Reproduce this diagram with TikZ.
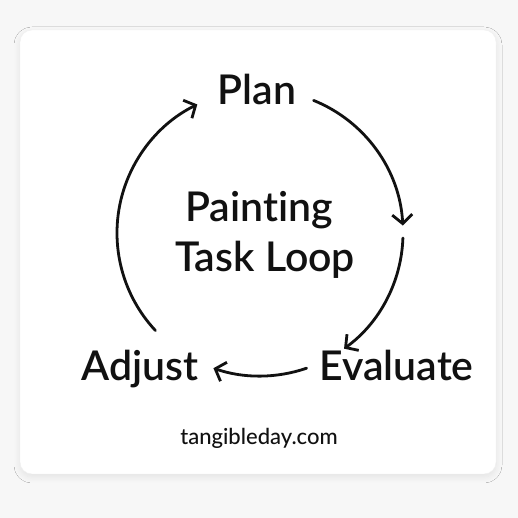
\documentclass[tikz,border=0pt]{standalone}
\usepackage{fontspec}
\setmainfont{Lato Semibold}[Ligatures=NoCommon]
\newfontfamily\smallfont{Lato Medium}[Ligatures=NoCommon]
\usetikzlibrary{arrows.meta,shadows.blur}
\definecolor{bgc}{HTML}{F7F7F7}
\definecolor{ink}{HTML}{111111}
\tikzset{
  big/.style={font=\fontsize{41}{51}\selectfont, text=ink, inner sep=0pt, anchor=base},
  small/.style={font=\smallfont\fontsize{22}{28}\selectfont, text=ink, inner sep=0pt, anchor=base},
  loop/.style={line width=2.8pt, draw=ink, line cap=round, -{Straight Barb[length=9pt,width=20pt,line width=2.8pt]}},
}
\begin{document}
\begin{tikzpicture}[x=1pt,y=1pt]
\fill[bgc] (0,0) rectangle (518,518);
\useasboundingbox (0,0) rectangle (518,518);
\node[draw=black!6, fill=white, rounded corners=12pt, minimum width=476pt, minimum height=444pt, inner sep=0pt,
      blur shadow={shadow xshift=0pt, shadow yshift=-3pt, shadow blur steps=10, shadow blur radius=6pt, shadow opacity=8}] (card) at (258,266) {};
\coordinate (c) at (260,285);
\node[big] (plan) at (257,413) {Plan};
\node[big] (title1) at (259,296) {Painting};
\node[big] (title2) at (265,246) {Task Loop};
\node[big] (adjust) at (140,137) {Adjust};
\node[big] (eval) at (396.5,137) {Evaluate};
\node[small] (site) at (259,73) {tangibleday.com};
\draw[loop] (c) ++(68:143) arc[start angle=68, end angle=3, radius=143];
\draw[loop] (c) ++(-2:143) arc[start angle=-2, end angle=-54, radius=143];
\draw[loop] (c) ++(-71:143) arc[start angle=-71, end angle=-109, radius=143];
\draw[loop] (c) ++(-137:143) arc[start angle=-137, end angle=-244, radius=143];
\end{tikzpicture}
\end{document}
